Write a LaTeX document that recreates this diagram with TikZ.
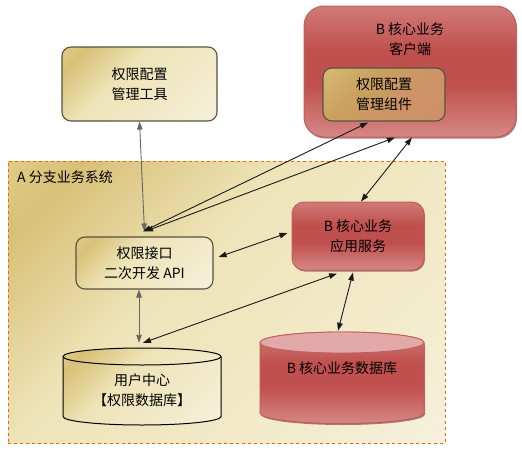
\documentclass[tikz,border=0pt]{standalone}
\usepackage{fontspec}
\setmainfont{Noto Sans CJK SC}
\usetikzlibrary{arrows.meta,shadows}

\definecolor{tanA}{HTML}{E6D48E}
\definecolor{tanB}{HTML}{D8C077}
\definecolor{tanC}{HTML}{EEE4B8}
\definecolor{tanD}{HTML}{F9F6EC}
\definecolor{redA}{HTML}{DC9A98}
\definecolor{redB}{HTML}{C0504D}
\definecolor{redTop}{HTML}{E2A9A8}
\definecolor{redEdge}{HTML}{BD5F5D}
\definecolor{boxEdge}{HTML}{55523E}
\definecolor{orangeEdge}{HTML}{E46C0A}
\definecolor{compA}{HTML}{E3CB85}
\definecolor{compB}{HTML}{C9A15D}
\definecolor{compC}{HTML}{CE8E6B}

\pgfdeclareverticalshading{tanband}{100bp}{color(0bp)=(tanD); color(30bp)=(tanC!60!tanD); color(58bp)=(tanC); color(78bp)=(tanB); color(90bp)=(tanA); color(100bp)=(tanA)}
\pgfdeclareverticalshading{redband}{100bp}{color(0bp)=(redA); color(25bp)=(redA!75!redB); color(45bp)=(redB); color(58bp)=(redB); color(80bp)=(redA!75!redB); color(100bp)=(redA)}
\pgfdeclareverticalshading{compband}{100bp}{color(0bp)=(compC); color(40bp)=(compC!70!compB); color(62bp)=(compB); color(82bp)=(compB!50!compA); color(100bp)=(compA)}

\newcommand\boxfont{\fontsize{14}{20}\selectfont}

\tikzset{
  tanbox/.style={draw=boxEdge, line width=1.1pt, rounded corners=9pt, shade, shading=tanband, shading angle=45, align=center, font=\boxfont},
  redbox/.style={draw=redEdge, line width=1pt, rounded corners=12pt, shade, shading=redband, align=center, font=\boxfont,
    drop shadow={shadow xshift=1pt, shadow yshift=-1.5pt, fill=redB!60!black, opacity=0.6}},
  sysbox/.style={draw=orangeEdge, dashed, line width=0.8pt, shade, shading=tanband, shading angle=45},
  dbnode/.style={inner sep=0pt},
  arr/.style={{Triangle[length=8pt,width=5.5pt]}-{Triangle[length=8pt,width=5.5pt]}, line width=0.9pt, draw=black!90},
  grayarr/.style={arr, draw=black!60}
}

\begin{document}
\begin{tikzpicture}[x=1pt, y=-1pt]
    \useasboundingbox (0,0) rectangle (522,455);
    % -------------------------
    % A branch system frame
    % -------------------------
    \node[sysbox, minimum width=437pt, minimum height=282pt] (sys) at (226.5,302) {};
    \node[anchor=west, font=\boxfont, inner sep=0pt] (systitle) at (17,177) {A 分支业务系统};

    % -------------------------
    % Top left: config tool
    % -------------------------
    \node[tanbox, minimum width=155pt, minimum height=74pt] (tool) at (139.5,84) {权限配置\\管理工具};

    % -------------------------
    % Top right: B client
    % -------------------------
    \node[redbox, rounded corners=20pt, minimum width=212pt, minimum height=131pt] (client) at (410,71.5) {};
    \node[font=\boxfont, align=center] (clienttitle) at (410,39.5) {B 核心业务\\客户端};
    \node[tanbox, shading=compband, shading angle=45, minimum width=122pt, minimum height=53pt] (comp) at (384,94.5) {权限配置\\管理组件};

    % -------------------------
    % Inside A
    % -------------------------
    \node[tanbox, minimum width=137pt, minimum height=52pt] (api) at (144.5,263) {权限接口\\二次开发 API};
    \node[redbox, minimum width=132pt, minimum height=68pt] (svc) at (358,236) {B 核心业务\\应用服务};

    % Databases (drawn by hand, named by an empty node)
    \path[draw=black, line width=1pt, shade, shading=tanband, shading angle=45]
      (63,416.5) arc[start angle=180, end angle=360, x radius=79pt, y radius=8.5pt]
      -- (221,356.5) arc[start angle=0, end angle=180, x radius=79pt, y radius=8.5pt] -- cycle;
    \draw[line width=1pt] (63,356.5) arc[start angle=180, end angle=360, x radius=79pt, y radius=8.5pt];
    \node[dbnode, minimum width=158pt, minimum height=77pt] (user) at (142,386.5) {};
    \node[font=\boxfont, align=center] (usertext) at (142,390) {用户中心\\【权限数据库】};

    \path[fill=redB!60!black, opacity=0.6]
      (261,414.5) arc[start angle=180, end angle=360, x radius=82pt, y radius=10.5pt]
      -- (425,344.5) -- (261,344.5) -- cycle;
    \path[draw=redEdge, line width=1pt, shade, shading=redband]
      (260,413) arc[start angle=180, end angle=360, x radius=82pt, y radius=10.5pt]
      -- (424,342.5) arc[start angle=0, end angle=180, x radius=82pt, y radius=10.5pt] -- cycle;
    \draw[draw=redEdge, fill=redTop, line width=0.8pt] (342,342.5) ellipse[x radius=82pt, y radius=10.5pt];
    \node[dbnode, minimum width=164pt, minimum height=92pt] (db) at (342,378) {};
    \node[font=\boxfont] (dbtext) at (342,368) {B 核心业务数据库};

    % -------------------------
    % Connectors
    % -------------------------
    \draw[grayarr] (tool.south) -- ([yshift=5pt]api.north);
    \draw[arr] ([xshift=-1.5pt,yshift=5pt]api.north) -- ([xshift=-16pt,yshift=-1pt]comp.south);
    \draw[arr] ([xshift=0.5pt,yshift=5pt]api.north) -- ([xshift=-15pt]client.south);
    \draw[arr] ([xshift=2pt]client.south) -- ([xshift=3pt]svc.north);
    \draw[arr] ([xshift=5pt,yshift=6pt]api.east) -- ([xshift=-4pt,yshift=3pt]svc.west);
    \draw[grayarr] ([xshift=-5.5pt]api.south) -- ([xshift=-3pt,yshift=5pt]user.north);
    \draw[arr] ([xshift=1pt,yshift=5pt]user.north) -- ([xshift=-21pt,yshift=-3pt]svc.south);
    \draw[arr] ([xshift=-5pt,yshift=-2pt]svc.south) -- ([xshift=-4pt,yshift=1pt]db.north);
\end{tikzpicture}
\end{document}
